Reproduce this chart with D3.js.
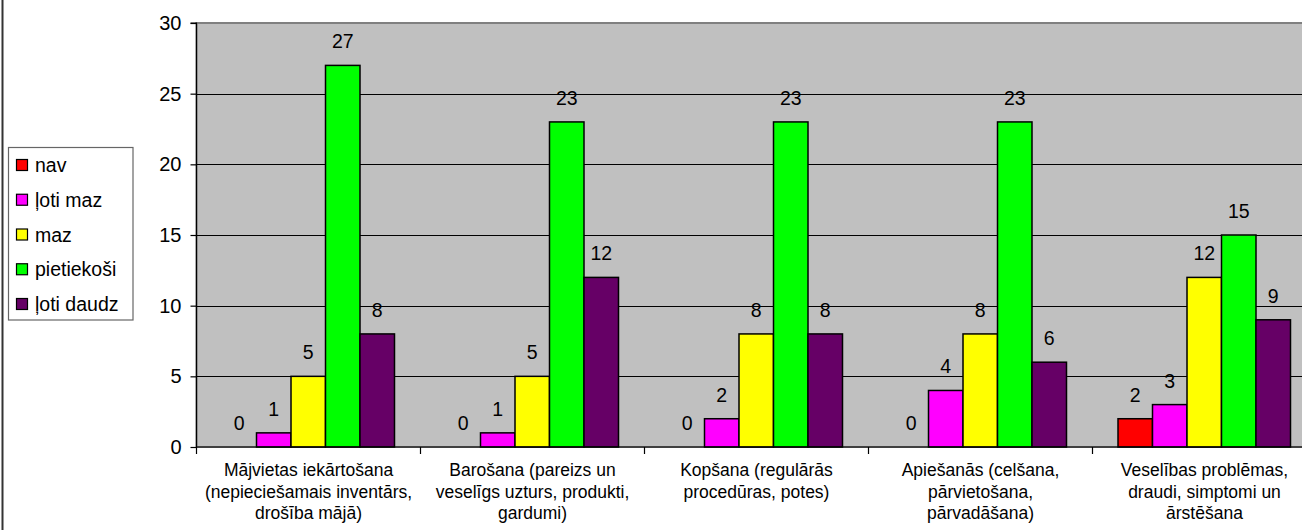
<!DOCTYPE html>
<html><head><meta charset="utf-8">
<script src="https://cdn.jsdelivr.net/npm/d3@7"></script>
<style>
html,body{margin:0;padding:0;background:#fff;}
svg{display:block;font-family:"Liberation Sans",Arial,sans-serif;}
</style></head>
<body>
<svg id="c" width="1302" height="530"></svg>
<script>
const categories = [
  ["Mājvietas iekārtošana", "(nepieciešamais inventārs,", "drošība mājā)"],
  ["Barošana (pareizs un", "veselīgs uzturs, produkti,", "gardumi)"],
  ["Kopšana (regulārās", "procedūras, potes)"],
  ["Apiešanās (celšana,", "pārvietošana,", "pārvadāšana)"],
  ["Veselības problēmas,", "draudi, simptomi un", "ārstēšana"]
];
const seriesNames = ["nav", "ļoti maz", "maz", "pietiekoši", "ļoti daudz"];
const seriesColors = ["#FF0000", "#FF00FF", "#FFFF00", "#00FF00", "#660066"];
const nav = [0, 0, 0, 0, 2];
const lotiMaz = [1, 1, 2, 4, 3];
const maz = [5, 5, 8, 8, 12];
const pietiekosi = [27, 23, 23, 23, 15];
const lotiDaudz = [8, 12, 8, 6, 9];
const yTicks = [0, 5, 10, 15, 20, 25, 30];

const seriesValues = [nav, lotiMaz, maz, pietiekosi, lotiDaudz];
const svg = d3.select("#c");

const plot = {left: 196.5, right: 1316.5, top: 23, bottom: 447};
const catKeys = categories.map((c, i) => i);
const x0 = d3.scaleBand().domain(catKeys).range([plot.left, plot.right]).paddingInner(0).paddingOuter(0);
const x1 = d3.scaleBand().domain(seriesNames.map((s, i) => i))
  .range([25.5, x0.bandwidth() - 26]).padding(0);
const y = d3.scaleLinear().domain([0, 30]).range([plot.bottom, plot.top]);

// outer left border line
svg.append("line").attr("x1", 2.5).attr("x2", 2.5).attr("y1", 0).attr("y2", 530)
  .attr("stroke", "#333").attr("stroke-width", 2);

// plot background
svg.append("rect").attr("x", plot.left).attr("y", plot.top)
  .attr("width", plot.right - plot.left).attr("height", plot.bottom - plot.top)
  .attr("fill", "#C0C0C0").attr("stroke", "#808080").attr("stroke-width", 2);

// gridlines
svg.append("g").selectAll("line").data(yTicks.filter(t => t > 0 && t < 30)).join("line")
  .attr("x1", plot.left).attr("x2", plot.right)
  .attr("y1", d => Math.round(y(d)) + 0.5).attr("y2", d => Math.round(y(d)) + 0.5)
  .attr("stroke", "#000").attr("stroke-width", 1.2);

// bars
const groups = svg.append("g").selectAll("g").data(catKeys).join("g")
  .attr("transform", d => `translate(${x0(d)},0)`);
groups.selectAll("rect").data(ci => seriesValues.map((vals, si) => ({si, v: vals[ci]}))).join("rect")
  .filter(d => d.v > 0)
  .attr("x", d => x1(d.si)).attr("width", x1.bandwidth())
  .attr("y", d => y(d.v)).attr("height", d => y(0) - y(d.v))
  .attr("fill", d => seriesColors[d.si]).attr("stroke", "#000").attr("stroke-width", 1.5);
groups.selectAll("text").data(ci => seriesValues.map((vals, si) => ({si, v: vals[ci]}))).join("text")
  .attr("x", d => x1(d.si) + x1.bandwidth() / 2)
  .attr("y", d => y(d.v) - 17)
  .attr("text-anchor", "middle").attr("font-size", 19.5).attr("fill", "#000")
  .text(d => d.v);

// y axis
const yAxis = d3.axisLeft(y).tickValues(yTicks).tickSize(6).tickPadding(9);
const ya = svg.append("g").attr("transform", `translate(${plot.left},0)`).call(yAxis);
ya.select(".domain").attr("stroke", "#000").attr("stroke-width", 1.2).attr("d", `M-6,${plot.top}H0V${plot.bottom}`);
ya.selectAll(".tick line").attr("stroke", "#000").attr("stroke-width", 1.2);
ya.selectAll(".tick text").attr("font-size", 20).attr("fill", "#000").attr("font-family", "Liberation Sans, Arial, sans-serif");

// x axis
const xAxis = d3.axisBottom(x0).tickSize(0).tickFormat("");
const xa = svg.append("g").attr("transform", `translate(0,${plot.bottom})`).call(xAxis);
xa.select(".domain").attr("stroke", "#000").attr("stroke-width", 1.2).attr("d", `M${plot.left},0H${plot.right}`);
xa.selectAll(".catTick").data(catKeys.concat([categories.length])).join("line")
  .attr("class", "catTick")
  .attr("x1", d => d < categories.length ? x0(d) : plot.right)
  .attr("x2", d => d < categories.length ? x0(d) : plot.right)
  .attr("y1", 0).attr("y2", 7).attr("stroke", "#000").attr("stroke-width", 1.2);
xa.selectAll(".catLabel").data(catKeys).join("text")
  .attr("class", "catLabel")
  .attr("x", d => x0(d) + x0.bandwidth() / 2)
  .attr("y", 29)
  .attr("text-anchor", "middle").attr("font-size", 17.5).attr("fill", "#000")
  .each(function(d) {
    d3.select(this).selectAll("tspan").data(categories[d]).join("tspan")
      .attr("x", x0(d) + x0.bandwidth() / 2)
      .attr("dy", (t, i) => i === 0 ? 0 : 21.5)
      .text(t => t);
  });

// legend
const lg = svg.append("g");
lg.append("rect").attr("x", 8.5).attr("y", 147.5).attr("width", 124.5).attr("height", 172.5)
  .attr("fill", "#fff").attr("stroke", "#666").attr("stroke-width", 1.2);
const items = lg.selectAll("g").data(seriesNames).join("g")
  .attr("transform", (d, i) => `translate(0,${165 + i * 34.75})`);
items.append("rect").attr("x", 16.5).attr("y", -5.5).attr("width", 11).attr("height", 11)
  .attr("fill", (d, i) => seriesColors[i]).attr("stroke", "#000").attr("stroke-width", 1.2);
items.append("text").attr("x", 35).attr("y", 7).attr("font-size", 19.5).attr("fill", "#000")
  .text(d => d);
</script>
</body></html>
